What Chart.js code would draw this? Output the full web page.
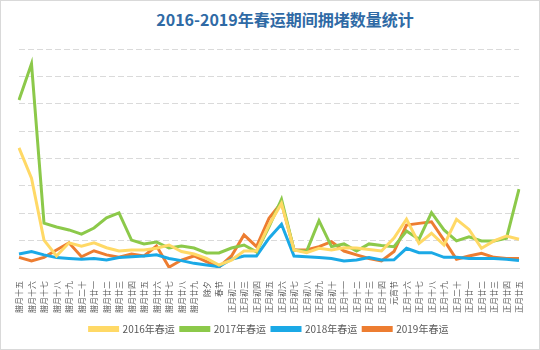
<!DOCTYPE html>
<html>
<head>
<meta charset="utf-8">
<script src="https://cdn.jsdelivr.net/npm/chart.js@4"></script>
<style>
  html, body { margin: 0; padding: 0; background: #fff; }
  #wrap {
    position: relative;
    width: 540px; height: 350px;
    box-sizing: border-box;
    border: 1px solid #d9d9d9;
    font-family: "Noto Sans CJK SC", "Noto Sans", sans-serif;
  }
  #title {
    position: absolute; left: 0; top: 6px; width: 100%;
    text-align: center; padding-left: 30px; box-sizing: border-box;
    font-size: 16px; font-weight: bold; color: #2f6aa5;
  }
  canvas { position: absolute; left: 0; top: 0; }
</style>
</head>
<body>
<div id="wrap">
  <div id="title">2016-2019年春运期间拥堵数量统计</div>
  <canvas id="chart" width="538" height="348"></canvas>
</div>
<script>
// lunar calendar days of the spring festival travel period
const days = [
  '腊月十五', '腊月十六', '腊月十七', '腊月十八', '腊月十九', '腊月二十',
  '腊月廿一', '腊月廿二', '腊月廿三', '腊月廿四', '腊月廿五', '腊月廿六',
  '腊月廿七', '腊月廿八', '腊月廿九', '除夕', '春节', '正月初二', '正月初三',
  '正月初四', '正月初五', '正月初六', '正月初七', '正月初八', '正月初九',
  '正月初十', '正月十一', '正月十二', '正月十三', '正月十四', '元宵节',
  '正月十六', '正月十七', '正月十八', '正月十九', '正月二十', '正月廿一',
  '正月廿二', '正月廿三', '正月廿四', '正月廿五'
];

const y2016 = [
  43.9, 32.8, 10.2, 4.4, 9.2, 8.0, 9.2, 7.4, 6.2, 6.6, 6.6, 7.2, 8.4, 6.0,
  5.1, 3.5, 1.1, 2.9, 6.2, 6.2, 15.7, 23.6, 6.6, 5.6, 7.2, 6.6, 7.4, 7.3,
  6.8, 6.2, 10.9, 17.8, 9.0, 12.7, 8.4, 17.8, 14.1, 7.2, 9.9, 11.7, 10.5
];
const y2017 = [
  61.4, 74.6, 16.4, 15.0, 13.9, 12.4, 14.6, 18.3, 20.1, 10.2, 8.8, 9.5, 7.3,
  8.0, 7.3, 5.5, 5.5, 7.3, 8.4, 5.9, 15.0, 25.1, 6.6, 6.0, 17.3, 7.8, 8.8,
  6.2, 8.8, 8.2, 7.8, 13.5, 10.5, 20.2, 13.9, 9.9, 11.4, 9.9, 9.9, 10.9, 28.8
];
const y2018 = [
  5.1, 6.0, 4.8, 3.8, 3.5, 3.2, 3.5, 2.9, 3.8, 4.1, 4.4, 4.8, 3.5, 2.7, 1.7,
  1.1, 0.5, 3.2, 4.4, 4.4, 10.9, 16.0, 4.4, 4.1, 3.8, 3.5, 2.6, 2.9, 3.8, 2.9,
  3.0, 7.2, 5.6, 5.6, 3.9, 3.9, 3.5, 3.5, 3.5, 3.2, 2.7
];
const y2019 = [
  3.9, 2.6, 3.9, 6.6, 9.2, 4.1, 6.3, 4.8, 3.9, 5.1, 4.4, 8.0, 0.3, 2.9, 4.4,
  2.3, 0.3, 4.4, 12.1, 7.8, 18.2, 23.9, 6.6, 6.6, 7.8, 9.6, 6.2, 4.8, 3.5,
  2.6, 6.0, 15.7, 16.3, 16.9, 10.2, 3.2, 4.4, 5.4, 3.9, 3.5, 3.5
];

const seriesNames = ['2016年春运', '2017年春运', '2018年春运', '2019年春运'];
const seriesColors = ['#ffd966', '#8cc94a', '#1ba9e6', '#ed7d31'];
const seriesData = [y2016, y2017, y2018, y2019];

const ctx = document.getElementById('chart').getContext('2d');
new Chart(ctx, {
    type: 'line',
    data: {
        labels: days,
        datasets: seriesData.map((d, i) => ({
            label: seriesNames[i],
            data: d,
            borderColor: seriesColors[i],
            backgroundColor: seriesColors[i],
            borderWidth: 3,
            pointRadius: 0,
            tension: 0
        }))
    },
    options: {
        responsive: false,
        animation: false,
        layout: { padding: { left: 18, right: 20, top: 48, bottom: 5 } },
        plugins: {
            title: { display: false },
            tooltip: { enabled: false },
            legend: {
                position: 'bottom',
                labels: {
                    boxWidth: 28,
                    boxHeight: 3,
                    padding: 6,
                    color: '#595959',
                    font: { size: 10, family: '"Noto Sans CJK SC", sans-serif' }
                }
            }
        },
        scales: {
            x: {
                offset: false,
                grid: { display: false },
                border: { display: true, color: '#d9d9d9' },
                ticks: {
                    autoSkip: false,
                    maxRotation: 90,
                    minRotation: 90,
                    padding: 5,
                    color: '#595959',
                    font: { size: 8, family: '"Noto Sans CJK SC", sans-serif' }
                }
            },
            y: {
                min: 0,
                max: 80,
                ticks: { display: false, stepSize: 10 },
                border: { display: false, dash: [6, 3] },
                grid: { color: '#dadada', lineWidth: 1, drawTicks: false }
            }
        }
    }
});
</script>
</body>
</html>
